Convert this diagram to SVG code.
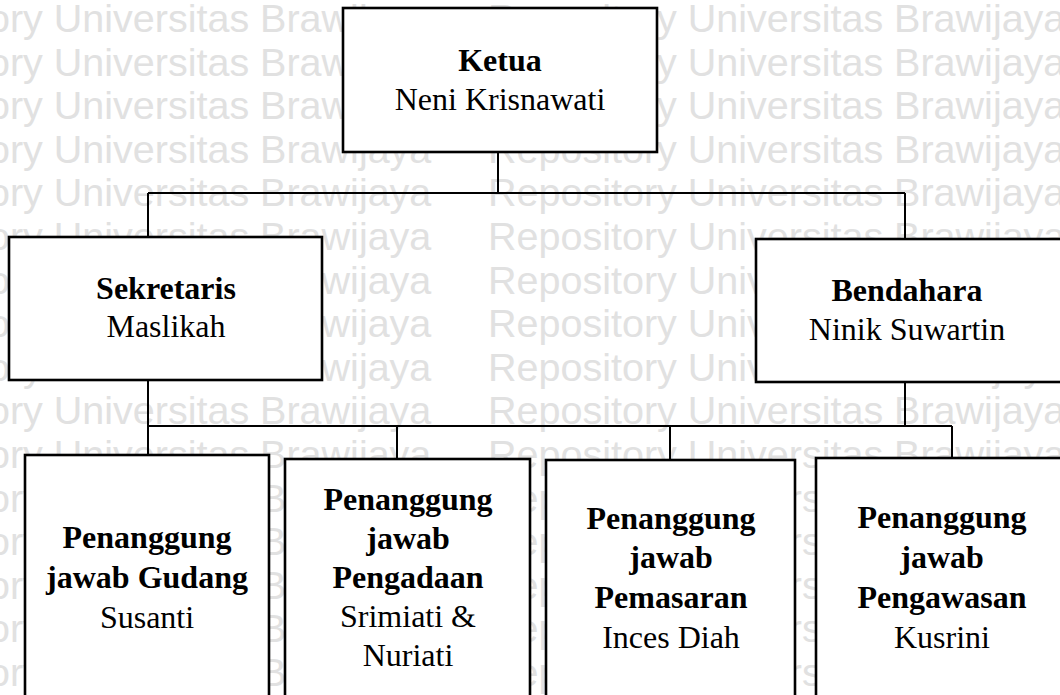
<svg xmlns="http://www.w3.org/2000/svg" width="1060" height="695" viewBox="0 0 1060 695">
<style>
.wm{font-family:"Liberation Sans",Arial,sans-serif;font-size:39.5px;fill:#e1e1e1}
.box{fill:#fff;stroke:#000;stroke-width:2.6}
.conn{fill:none;stroke:#000;stroke-width:2}
.t{font-family:"Liberation Serif","Times New Roman",serif;font-size:32px;fill:#000;text-anchor:middle}
.b{font-weight:bold}
</style>
<rect width="1060" height="695" fill="#fff"/>
<g id="watermark">
<text class="wm" y="32"><tspan x="-146">Repository Universitas Brawijaya</tspan><tspan x="488">Repository Universitas Brawijaya</tspan></text>
<text class="wm" y="75.6"><tspan x="-146">Repository Universitas Brawijaya</tspan><tspan x="488">Repository Universitas Brawijaya</tspan></text>
<text class="wm" y="119.2"><tspan x="-146">Repository Universitas Brawijaya</tspan><tspan x="488">Repository Universitas Brawijaya</tspan></text>
<text class="wm" y="162.8"><tspan x="-146">Repository Universitas Brawijaya</tspan><tspan x="488">Repository Universitas Brawijaya</tspan></text>
<text class="wm" y="206.4"><tspan x="-146">Repository Universitas Brawijaya</tspan><tspan x="488">Repository Universitas Brawijaya</tspan></text>
<text class="wm" y="250"><tspan x="-146">Repository Universitas Brawijaya</tspan><tspan x="488">Repository Universitas Brawijaya</tspan></text>
<text class="wm" y="293.6"><tspan x="-146">Repository Universitas Brawijaya</tspan><tspan x="488">Repository Universitas Brawijaya</tspan></text>
<text class="wm" y="337.2"><tspan x="-146">Repository Universitas Brawijaya</tspan><tspan x="488">Repository Universitas Brawijaya</tspan></text>
<text class="wm" y="380.8"><tspan x="-146">Repository Universitas Brawijaya</tspan><tspan x="488">Repository Universitas Brawijaya</tspan></text>
<text class="wm" y="424.4"><tspan x="-146">Repository Universitas Brawijaya</tspan><tspan x="488">Repository Universitas Brawijaya</tspan></text>
<text class="wm" y="468"><tspan x="-146">Repository Universitas Brawijaya</tspan><tspan x="488">Repository Universitas Brawijaya</tspan></text>
<text class="wm" y="511.6"><tspan x="-146">Repository Universitas Brawijaya</tspan><tspan x="488">Repository Universitas Brawijaya</tspan></text>
<text class="wm" y="555.2"><tspan x="-146">Repository Universitas Brawijaya</tspan><tspan x="488">Repository Universitas Brawijaya</tspan></text>
<text class="wm" y="598.8"><tspan x="-146">Repository Universitas Brawijaya</tspan><tspan x="488">Repository Universitas Brawijaya</tspan></text>
<text class="wm" y="642.4"><tspan x="-146">Repository Universitas Brawijaya</tspan><tspan x="488">Repository Universitas Brawijaya</tspan></text>
<text class="wm" y="686"><tspan x="-146">Repository Universitas Brawijaya</tspan><tspan x="488">Repository Universitas Brawijaya</tspan></text>
</g>
<g id="connectors">
<path class="conn" d="M498 152V193M148 193H905M148 193V237M905 193V239"/>
<path class="conn" d="M148 380V426M905 382V426M148 426H952M148 426V455M397 426V459M670 426V460M952 426V458"/>
</g>
<g id="ketua">
<rect class="box" x="343" y="8" width="314" height="144"/>
<text class="t b" x="500" y="71">Ketua</text>
<text class="t" x="500" y="110">Neni Krisnawati</text>
</g>
<g id="sekretaris">
<rect class="box" x="9" y="237" width="313" height="143"/>
<text class="t b" x="166" y="299">Sekretaris</text>
<text class="t" x="166" y="337">Maslikah</text>
</g>
<g id="bendahara">
<rect class="box" x="756" y="239" width="320" height="143"/>
<text class="t b" x="907" y="301">Bendahara</text>
<text class="t" x="907" y="340">Ninik Suwartin</text>
</g>
<g id="pj-gudang">
<rect class="box" x="25" y="455" width="244" height="260"/>
<text class="t b" x="147" y="548">Penanggung</text>
<text class="t b" x="147" y="588">jawab Gudang</text>
<text class="t" x="147" y="628">Susanti</text>
</g>
<g id="pj-pengadaan">
<rect class="box" x="285" y="459" width="245" height="260"/>
<text class="t b" x="408" y="510">Penanggung</text>
<text class="t b" x="408" y="549">jawab</text>
<text class="t b" x="408" y="588">Pengadaan</text>
<text class="t" x="408" y="627">Srimiati &amp;</text>
<text class="t" x="408" y="666">Nuriati</text>
</g>
<g id="pj-pemasaran">
<rect class="box" x="546" y="460" width="249" height="260"/>
<text class="t b" x="671" y="529">Penanggung</text>
<text class="t b" x="671" y="568">jawab</text>
<text class="t b" x="671" y="608">Pemasaran</text>
<text class="t" x="671" y="648">Inces Diah</text>
</g>
<g id="pj-pengawasan">
<rect class="box" x="816" y="458" width="260" height="260"/>
<text class="t b" x="942" y="528">Penanggung</text>
<text class="t b" x="942" y="568">jawab</text>
<text class="t b" x="942" y="608">Pengawasan</text>
<text class="t" x="942" y="648">Kusrini</text>
</g>
</svg>
